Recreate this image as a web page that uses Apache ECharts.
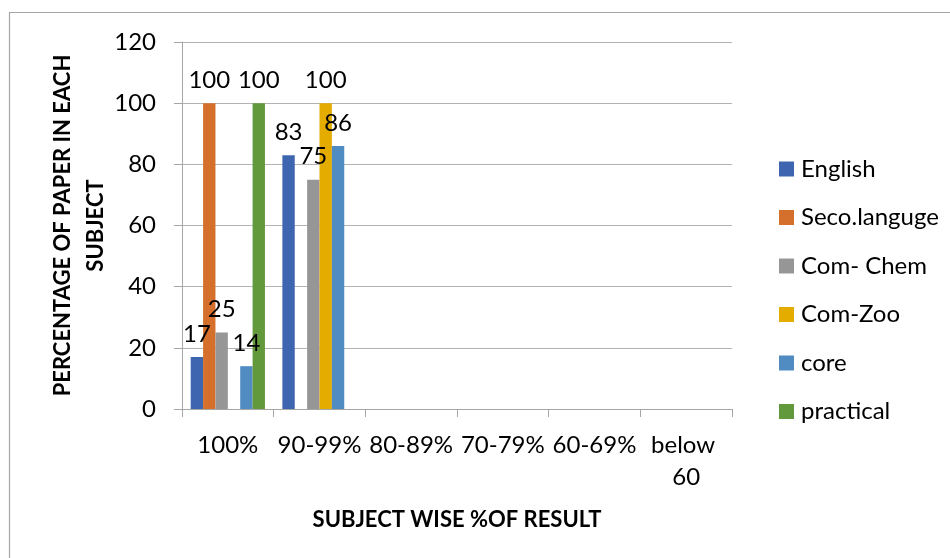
<!DOCTYPE html>
<html>
<head>
<meta charset="utf-8">
<script src="https://cdn.jsdelivr.net/npm/echarts@6/dist/echarts.min.js"></script>
<style>
  html, body { margin: 0; padding: 0; background: #fff; }
  #chart { width: 950px; height: 558px; }
</style>
</head>
<body>
<div id="chart"></div>
<script>
// Result bands on the x axis
const categories = ['100%', '90-99%', '80-89%', '70-79%', '60-69%', 'below 60'];

// Percentage of papers per subject in each band (empty cells are null)
const english     = [17, 83, null, null, null, null];
const secoLanguge = [100, null, null, null, null, null];
const comChem     = [25, 75, null, null, null, null];
const comZoo      = [null, 100, null, null, null, null];
const core        = [14, 86, null, null, null, null];
const practical   = [100, null, null, null, null, null];

const seriesNames = ['English', 'Seco.languge', 'Com- Chem', 'Com-Zoo', 'core', 'practical'];
const seriesData = [english, secoLanguge, comChem, comZoo, core, practical];
const seriesColors = ['#3e65af', '#d4702c', '#969696', '#e5ac00', '#508bc1', '#63993d'];

const yTicks = { min: 0, max: 120, interval: 20 };

const FONT = 'Lato';
const chart = echarts.init(document.getElementById('chart'), null, { renderer: 'canvas' });

chart.setOption({
  animation: false,
  backgroundColor: '#ffffff',
  textStyle: { fontFamily: FONT },
  graphic: [{
    type: 'rect',
    shape: { x: 9.5, y: 12.5, width: 960, height: 560 },
    style: { fill: 'none', stroke: '#a6a6a6', lineWidth: 1.2 },
    silent: true
  }],
  grid: { left: 182, right: 218, top: 42, bottom: 149, containLabel: false },
  legend: {
    orient: 'vertical',
    left: 774,
    top: 152,
    itemWidth: 15,
    itemHeight: 15,
    itemGap: 24.5,
    icon: 'rect',
    data: seriesNames,
    textStyle: { fontFamily: FONT, fontSize: 24, color: '#000', padding: [0, 0, 0, 2] }
  },
  xAxis: {
    type: 'category',
    data: categories,
    name: 'SUBJECT WISE %OF RESULT',
    nameLocation: 'middle',
    nameGap: 100,
    nameMoveOverlap: false,
    nameTextStyle: { fontFamily: FONT, fontSize: 22, fontWeight: 'bold', color: '#000' },
    axisLine: { show: true, lineStyle: { color: '#a6a6a6', width: 1 } },
    axisTick: { show: true, alignWithLabel: false, length: 8, lineStyle: { color: '#a6a6a6' } },
    axisLabel: {
      fontFamily: FONT, fontSize: 24, color: '#000', margin: 20,
      interval: 0, width: 88, overflow: 'break', lineHeight: 32
    },
    splitLine: { show: false }
  },
  yAxis: {
    type: 'value',
    min: yTicks.min,
    max: yTicks.max,
    interval: yTicks.interval,
    name: 'PERCENTAGE OF PAPER IN EACH\nSUBJECT',
    nameLocation: 'middle',
    nameRotate: 90,
    nameGap: 70,
    nameMoveOverlap: false,
    nameTextStyle: { fontFamily: FONT, fontSize: 22, fontWeight: 'bold', color: '#000', lineHeight: 33 },
    axisLine: { show: true, lineStyle: { color: '#a6a6a6', width: 1 } },
    axisTick: { show: true, length: 8, lineStyle: { color: '#a6a6a6' } },
    axisLabel: { fontFamily: FONT, fontSize: 24, color: '#000', margin: 26 },
    splitLine: { show: true, lineStyle: { color: '#b3b3b3', width: 1 } }
  },
  series: seriesNames.map((name, i) => ({
    name: name,
    type: 'bar',
    data: seriesData[i],
    barGap: '0%',
    barCategoryGap: '19%',
    itemStyle: { color: seriesColors[i] },
    label: {
      show: true,
      position: 'top',
      distance: 11,
      fontFamily: FONT,
      fontSize: 24,
      color: '#000'
    }
  }))
});
</script>
</body>
</html>
